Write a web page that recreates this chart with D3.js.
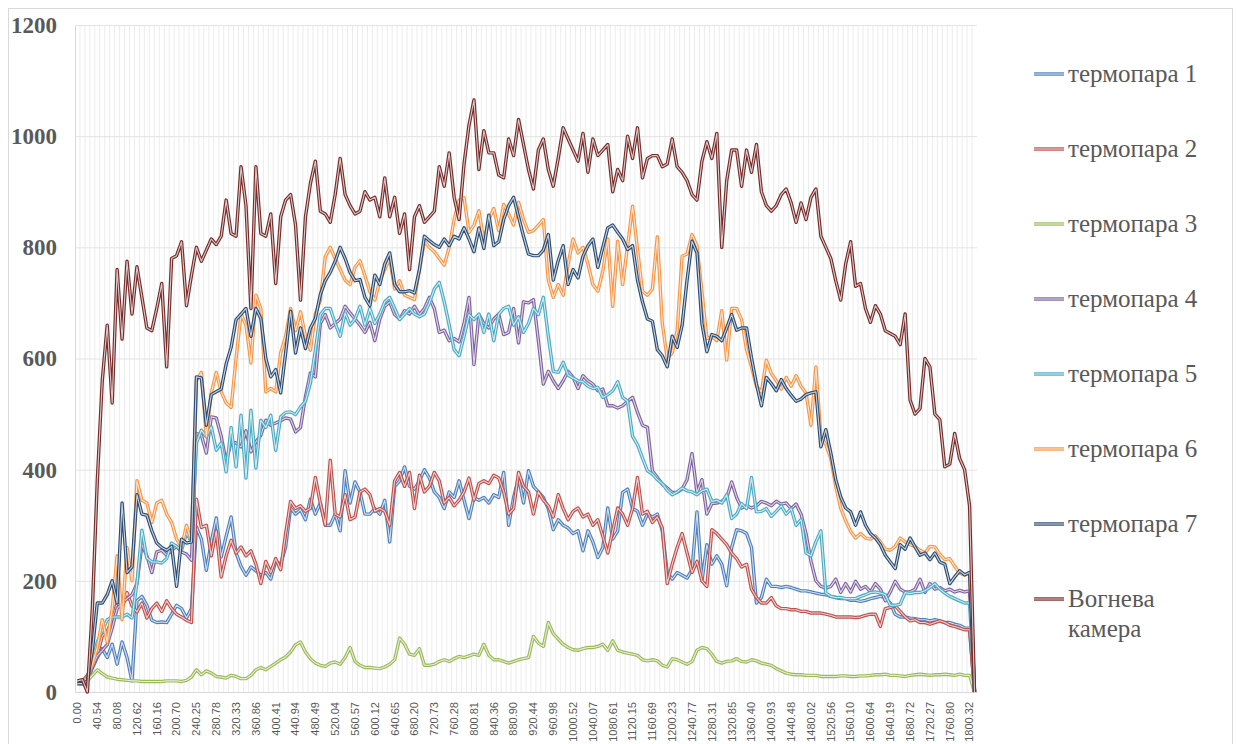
<!DOCTYPE html>
<html><head><meta charset="utf-8">
<script src="https://cdn.jsdelivr.net/npm/d3@7"></script>
<style>body{margin:0;background:#fff;}svg{display:block;}</style>
</head><body>
<svg id="chart" width="1237" height="744"></svg>
<script>
// ---------- DATA ----------
const tickLabels = ["0.00","40.54","80.08","120.62","160.16","200.70","240.25","280.78","320.33","360.86",
"400.41","440.94","480.49","520.04","560.57","600.12","640.65","680.20","720.73","760.28",
"800.81","840.36","880.90","920.44","960.98","1000.52","1040.07","1080.61","1120.15","1160.69",
"1200.23","1240.77","1280.31","1320.85","1360.40","1400.93","1440.48","1480.02","1520.56","1560.10",
"1600.64","1640.19","1680.72","1720.27","1760.80","1800.32"];
const yTicks = [0,200,400,600,800,1000,1200];
const seriesNames = ["термопара 1","термопара 2","термопара 3","термопара 4","термопара 5","термопара 6","термопара 7","Вогнева камера"];
const seriesColors = ["#4F81BD","#C0504D","#9BBB59","#8064A2","#4BACC6","#F79646","#2C4D75","#772C2A"];

const t1 = [15,15,20,43,62,78,62,86,50,90, 62,20,164,172,156,129,125,126,125,140,
156,150,133,150,297,275,219,270,313,243, 280,315,250,226,210,225,218,210,215,203,
235,230,261,331,320,328,310,347,320,340, 300,300,320,290,398,340,378,360,320,320,
330,320,345,270,370,380,405,370,365,380, 400,385,360,350,330,360,350,380,345,312,
350,345,350,340,355,350,395,300,350,385, 340,398,370,360,350,330,292,310,300,295,
285,290,254,290,270,242,260,331,275,290, 359,365,330,325,300,320,315,320,290,215,
203,215,210,205,220,324,200,265,230,245, 230,191,260,292,290,285,260,160,170,203,
190,190,188,190,188,185,182,182,180,178, 176,175,172,170,168,168,165,165,163,165,
168,170,172,170,160,140,135,135,133,132, 130,130,128,130,128,125,125,122,120,115, 115,0];
const t2 = [20,20,30,45,66,101,109,130,160,150, 179,155,144,160,133,150,160,145,164,150,
140,135,129,125,347,296,300,245,290,207, 245,273,250,261,245,254,230,195,235,215,
240,220,285,343,330,335,325,330,386,340, 300,417,320,315,355,310,315,360,365,355,
325,330,325,300,380,395,370,395,330,390, 360,370,395,380,340,350,335,345,360,385,
345,375,380,375,390,385,360,320,330,395, 370,360,320,360,345,335,315,355,330,310,
325,331,315,320,300,310,280,250,290,331, 320,300,330,386,320,325,305,315,295,195,
230,260,285,250,215,235,200,190,292,285, 275,265,250,240,225,230,185,170,160,160,
170,155,150,150,148,148,145,145,142,142, 142,140,138,135,135,135,135,134,135,138,
140,140,118,150,152,155,145,135,128,130, 125,125,122,125,128,125,120,118,115,112, 112,0];
const t3 = [15,15,20,30,40,33,27,25,23,22, 21,20,20,19,19,19,19,19,20,20,
20,19,21,27,40,31,38,34,28,27, 25,30,28,24,24,30,40,44,40,46,
52,58,63,72,85,90,72,60,52,48, 46,52,54,50,62,80,55,48,44,44,
43,42,45,50,58,97,86,68,66,78, 48,48,50,55,58,55,60,64,62,65,
68,66,86,66,58,58,55,52,55,58, 60,62,100,88,82,125,105,95,86,80,
76,75,78,80,80,82,86,75,92,75, 72,70,68,66,58,56,58,56,48,45,
60,58,54,50,55,75,80,78,68,55, 52,55,56,60,55,54,58,56,52,50,
48,42,38,34,32,31,31,30,30,30, 28,28,28,28,29,29,28,28,29,29,
30,31,31,32,30,30,29,28,30,31, 32,31,30,31,31,32,31,30,32,30, 30,0];
const t4 = [15,15,25,45,65,75,85,115,150,160, 168,175,195,265,245,215,252,255,246,255,
262,252,248,237,465,462,430,495,493,460, 414,450,448,441,470,432,450,462,489,480,
484,488,493,491,468,476,531,574,567,663, 679,655,663,671,694,682,671,660,647,665,
632,671,694,702,679,671,686,680,694,679, 690,710,690,647,651,632,636,630,663,710,
589,679,663,655,671,680,643,647,690,628, 702,700,706,632,554,577,560,546,560,577,
566,546,569,560,554,542,545,515,515,511, 515,523,530,503,480,476,398,386,374,367,
359,359,365,382,429,359,382,320,339,340, 343,350,378,350,331,335,331,335,343,340,
335,343,338,340,330,338,320,285,235,200, 190,187,190,203,179,195,180,199,185,190,
180,195,185,164,180,199,185,180,180,185, 203,179,195,185,188,182,185,180,183,180, 182,0];
const t5 = [15,15,25,55,90,110,130,135,135,135, 140,133,196,291,241,234,234,232,240,268,
262,255,286,270,448,471,459,477,435,448, 396,476,405,498,385,507,403,489,476,498,
435,495,503,504,499,513,523,556,615,679, 690,690,663,640,682,660,671,694,660,690,
663,680,702,710,690,670,680,690,680,675, 680,700,725,737,702,660,616,605,640,679,
670,680,647,680,632,680,690,694,660,675, 647,663,690,679,710,640,577,575,593,570,
565,560,558,550,546,548,530,535,542,558, 530,523,460,445,421,398,392,382,375,363,
355,360,367,362,360,355,362,365,343,345, 340,355,312,320,339,330,386,324,325,330,
316,325,335,320,330,300,310,250,245,270, 290,178,172,170,170,168,168,168,172,175,
179,180,178,175,156,156,158,179,177,179, 179,182,188,195,185,178,172,168,164,160, 160,0];
const t6 = [15,15,25,50,80,130,90,150,245,130, 260,200,380,345,340,305,340,345,320,305,
275,260,300,270,560,575,460,538,575,540, 520,512,600,680,660,592,714,690,540,546,
540,610,640,690,650,684,640,615,680,705, 783,800,780,760,741,733,764,776,749,720,
705,740,760,780,725,740,714,710,706,760, 811,800,792,780,768,800,850,885,889,827,
840,866,811,850,870,830,877,860,840,881, 850,827,830,840,850,741,710,733,714,770,
815,790,800,770,733,721,757,815,694,811, 733,803,874,796,721,714,725,819,663,600,
610,650,784,788,823,803,720,636,640,632, 686,597,690,690,670,616,585,550,540,597,
573,560,545,566,550,569,550,538,480,585, 460,445,420,370,331,308,289,277,285,277,
275,281,270,257,255,262,277,270,265,262, 255,250,262,261,248,238,240,226,214,210, 215,0];
const t7 = [15,15,20,75,160,160,175,200,160,340, 215,225,355,320,318,290,268,260,255,262,
190,275,268,270,567,565,480,535,540,545, 590,620,670,680,690,640,690,672,600,567,
580,538,610,685,610,655,618,655,672,715, 740,755,775,800,780,755,740,742,710,695,
750,733,770,790,733,720,720,722,718,760, 820,812,805,800,815,803,820,815,835,815,
792,835,798,858,803,810,850,875,890,855, 820,788,785,785,795,823,741,776,803,733,
760,745,784,803,815,764,800,835,840,827, 815,796,803,741,702,671,667,616,605,585,
640,620,660,741,811,790,663,612,643,640, 632,655,679,651,655,655,601,554,515,566,
555,542,562,546,534,523,527,535,538,540, 441,472,430,382,351,331,324,300,324,300,
285,277,265,246,234,222,265,257,277,261, 246,250,238,250,234,230,195,207,218,211, 215,0];
const kamera = [20,22,0,150,380,560,660,520,760,635, 775,680,765,710,655,650,690,735,585,780,
785,810,695,750,800,775,795,815,805,820, 885,825,820,945,875,690,945,825,820,860,
735,855,885,895,840,705,855,915,955,865, 860,845,895,960,895,875,860,865,900,885,
890,855,925,855,890,825,860,760,855,875, 845,855,865,945,910,970,890,850,950,1020,
1065,940,1010,970,970,930,925,995,965,1030, 985,940,905,975,995,940,910,960,1015,995,
975,955,1005,935,995,965,975,985,900,940, 920,1000,960,1015,925,960,965,965,945,950,
995,945,935,920,895,885,955,990,960,1005, 800,920,975,975,910,975,935,985,900,875,
865,875,895,905,880,845,880,850,890,905, 820,800,780,740,705,770,810,730,735,690,
665,695,680,650,645,640,625,680,525,500, 510,600,585,500,490,405,410,465,420,400, 335,0];

const seriesData = [t1,t2,t3,t4,t5,t6,t7,kamera];
const categories = d3.range(t1.length);

// ---------- LAYOUT ----------
const svg = d3.select("#chart");
const plot = {left:75, right:977, top:25, bottom:692};

svg.append("rect").attr("x",8.5).attr("y",8.5).attr("width",1224).attr("height",760)
  .attr("fill","#fff").attr("stroke","#d9d9d9");

const x = d3.scaleBand().domain(categories).range([plot.left, plot.right]).padding(0);
const y = d3.scaleLinear().domain([0,1200]).range([plot.bottom, plot.top]);
const bw = x.bandwidth();

// vertical category gridlines
svg.append("g").selectAll("line").data(categories.slice(1)).join("line")
  .attr("x1", d => x(d)).attr("x2", d => x(d))
  .attr("y1", plot.top).attr("y2", plot.bottom)
  .attr("stroke","#ececec").attr("stroke-width",1);

// y axis with horizontal gridlines
const yAxis = svg.append("g").attr("transform",`translate(${plot.left},0)`)
  .call(d3.axisLeft(y).tickValues(yTicks).tickFormat(d3.format("d"))
    .tickSize(-(plot.right-plot.left)).tickPadding(18));
yAxis.select(".domain").attr("stroke","#d9d9d9");
yAxis.selectAll(".tick line").attr("stroke","#e3e3e3");
yAxis.selectAll(".tick text").attr("fill","#595959")
  .style("font-family","'Liberation Serif','Times New Roman',serif")
  .style("font-size","23px").style("font-weight","bold");

// x axis
const xAxis = svg.append("g").attr("transform",`translate(0,${plot.bottom})`)
  .call(d3.axisBottom(x).tickValues(categories.filter(d => d % 4 === 0 && d/4 < tickLabels.length))
    .tickFormat(d => tickLabels[d/4]).tickSize(0));
xAxis.select(".domain").attr("stroke","#d9d9d9");
xAxis.selectAll(".tick text")
  .attr("transform","rotate(-90)").attr("x",-10).attr("y",0).attr("dy","0.35em")
  .style("text-anchor","end").attr("fill","#595959")
  .style("font-family","'Liberation Sans',Arial,sans-serif").style("font-size","11px");

// lines
const line = d3.line().x((d,i) => x(categories[i]) + bw/2).y(d => y(d));
const gLines = svg.append("g");
seriesData.forEach((s,k) => {
  gLines.append("path").datum(s).attr("d", line).attr("fill","none")
    .attr("stroke", seriesColors[k]).attr("stroke-width",3.4).attr("stroke-linejoin","round");
  gLines.append("path").datum(s).attr("d", line).attr("fill","none")
    .attr("stroke", "#fff").attr("stroke-opacity",0.75).attr("stroke-width",1.1).attr("stroke-linejoin","round");
});

// legend
const leg = svg.append("g");
seriesNames.forEach((name,k) => {
  const ly = 74 + 75*k;
  leg.append("line").attr("x1",1034).attr("x2",1064).attr("y1",ly).attr("y2",ly)
    .attr("stroke",seriesColors[k]).attr("stroke-width",3.4);
  leg.append("line").attr("x1",1034).attr("x2",1064).attr("y1",ly).attr("y2",ly)
    .attr("stroke","#fff").attr("stroke-opacity",0.75).attr("stroke-width",1.1);
  const parts = name === "Вогнева камера" ? ["Вогнева","камера"] : [name];
  const t = leg.append("text").attr("x",1068).attr("y",ly)
    .attr("fill","#595959").style("font-family","'Liberation Serif','Times New Roman',serif")
    .style("font-size","25px");
  parts.forEach((p,j) => t.append("tspan").attr("x",1068).attr("dy", j===0 ? "0.33em" : "1.18em").text(p));
});
</script>
</body></html>
